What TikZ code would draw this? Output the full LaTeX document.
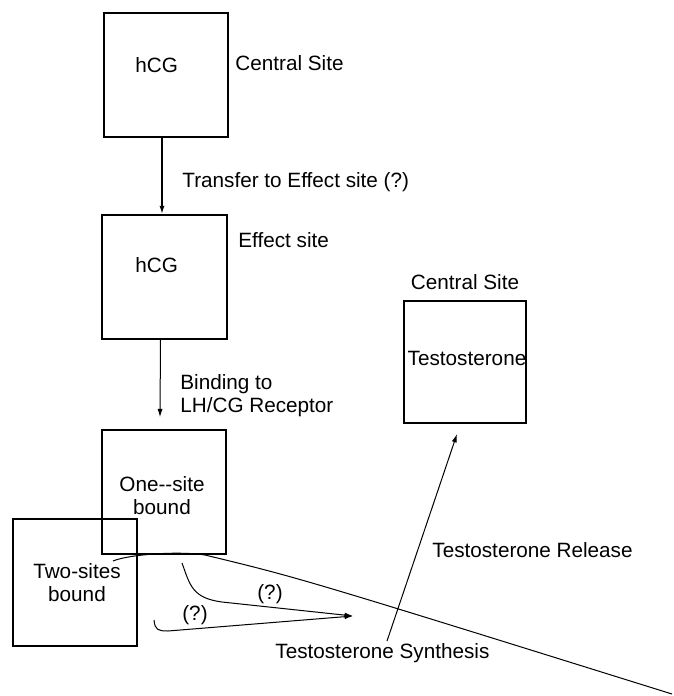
\documentclass[tikz,border=0pt]{standalone}
\usepackage{fontspec}
\setmainfont{Liberation Sans}[Ligatures=TeXOff]
\usetikzlibrary{arrows.meta}
\begin{document}
\begin{tikzpicture}[x=0.5pt,y=-0.5pt,
  every node/.style={font=\fontsize{10.35}{11.5}\selectfont, inner sep=0pt},
  box/.style={draw, line width=0.8pt, minimum width=62pt, minimum height=62pt},
  lbl/.style={anchor=west},
  conn/.style={line width=0.5pt},
  arr/.style={line width=0.5pt, -{Latex[length=4.2pt,width=2.6pt]}},
  thickarr/.style={line width=0.9pt, -{Latex[length=4.2pt,width=2.6pt]}}]
\useasboundingbox (0,0) rectangle (674,696);

% boxes
\node[box] (b1) at (166,75) {};
\node[box, minimum width=62.5pt] (b2) at (164.5,277) {};
\node[box] (b3) at (164,492) {};
\node[box, minimum height=63.5pt] (b4) at (75,582.5) {};
\node[box, minimum width=61pt, minimum height=61pt] (b5) at (465,362) {};

% texts
\node[lbl] (t1) at (135,65) {hCG};
\node[lbl] (cs1) at (235,63) {Central Site};
\node[lbl] (tr) at (182,182) {Transfer to Effect site (?)};
\node[lbl] (t2) at (135,265) {hCG};
\node[lbl] (es) at (238,240) {Effect site};
\node[lbl, align=left] (bind) at (180,396) {Binding to\\LH/CG Receptor};
\node[align=center] (one) at (162,496) {One--site\\bound};
\node[align=center] (two) at (77,583) {Two-sites\\bound};
\node (cs2) at (465,282) {Central Site};
\node (testo) at (467,358) {Testosterone};
\node[lbl] (rel) at (432,550) {Testosterone Release};
\node[lbl] (syn) at (275,653) {Testosterone Synthesis};
\node (q1) at (270,594) {(?)};
\node (q2) at (195,615) {(?)};

% connectors
\draw[thickarr] ([xshift=-2pt]b1.south) -- ([xshift=-1.25pt]b2.north);
\draw[arr] ([xshift=-2pt]b2.south) -- ([xshift=-2pt,yshift=6pt]b3.north);

\coordinate (sa) at (387,641);
\coordinate (sb) at (457,434);
\draw[arr] (sa) -- (sb);

\coordinate (la) at (113,561);
\coordinate (lb) at (205,555);
\coordinate (lc) at (672,694);
\draw[conn] (la) .. controls (130,554) and (180,551) .. (lb) .. controls (300,578) .. (lc);

\coordinate (tip) at (353,616);
\coordinate (ua) at (182,563);
\coordinate (ub) at (222,602);
\draw[arr] (ua) .. controls (190,585) and (192,598) .. (ub) -- (tip);
\coordinate (wa) at (154,620);
\coordinate (wb) at (168,631);
\draw[arr] (wa) .. controls (155,630) and (158,631) .. (wb) -- (tip);
\end{tikzpicture}
\end{document}
